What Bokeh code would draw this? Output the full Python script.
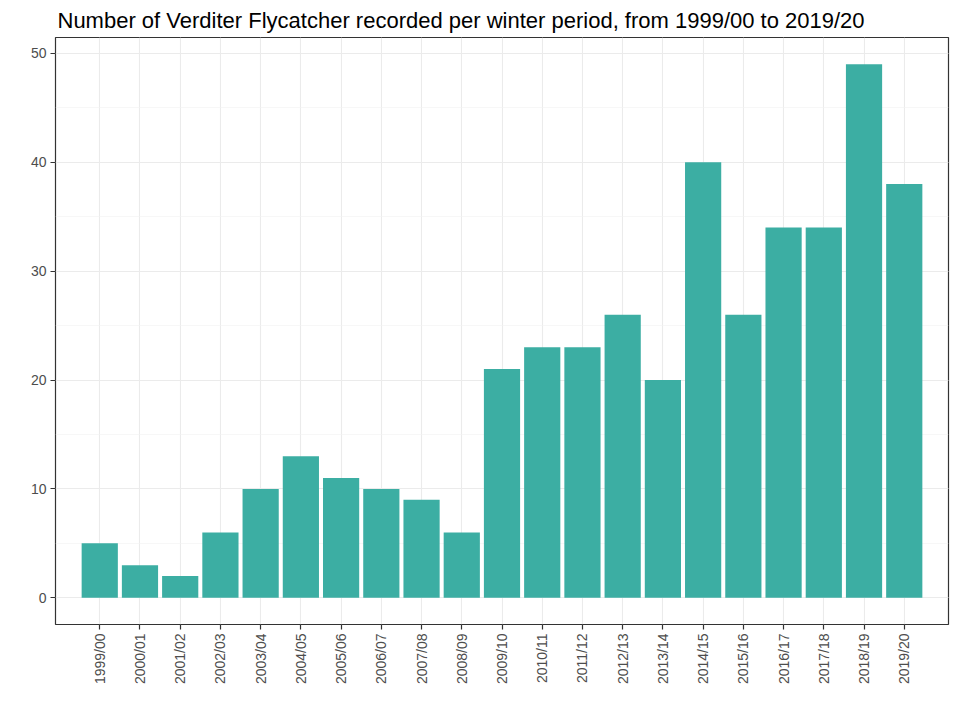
import math
from bokeh.plotting import figure
from bokeh.models import Range1d, FactorRange, SingleIntervalTicker
from bokeh.embed import file_html
from bokeh.resources import INLINE

seasons = ["1999/00", "2000/01", "2001/02", "2002/03", "2003/04", "2004/05", "2005/06",
           "2006/07", "2007/08", "2008/09", "2009/10", "2010/11", "2011/12", "2012/13",
           "2013/14", "2014/15", "2015/16", "2016/17", "2017/18", "2018/19", "2019/20"]
counts = [5, 3, 2, 6, 10, 13, 11, 10, 9, 6, 21, 23, 23, 26, 20, 40, 26, 34, 34, 49, 38]

title_text = "Number of Verditer Flycatcher recorded per winter period, from 1999/00 to 2019/20"

p = figure(x_range=FactorRange(factors=seasons, range_padding=0.6, range_padding_units="absolute"),
           y_range=Range1d(-2.45, 51.45),
           frame_width=893, frame_height=587,
           min_border_left=55, min_border_right=2, min_border_top=30, min_border_bottom=80,
           output_backend="svg", toolbar_location=None, title=title_text)

p.vbar(x=seasons, top=counts, width=0.9, fill_color="#3CAEA3", line_color=None)

p.title.text_font = "Liberation Sans"
p.title.text_font_size = "22px"
p.title.text_font_style = "normal"
p.title.text_color = "#000000"
p.title.align = "left"
p.title.offset = 2
p.title.standoff = 10

p.background_fill_color = "white"
p.border_fill_color = "white"
p.outline_line_color = "#333333"
p.outline_line_width = 1.2

p.yaxis.ticker = SingleIntervalTicker(interval=10, num_minor_ticks=2)
p.ygrid.ticker = SingleIntervalTicker(interval=10, num_minor_ticks=2)
for ax in (p.xaxis, p.yaxis):
    ax.axis_line_color = None
    ax.major_tick_line_color = "#333333"
    ax.major_tick_line_width = 1.2
    ax.major_tick_out = 5
    ax.major_tick_in = 0
    ax.minor_tick_line_color = None
    ax.major_label_text_font = "Liberation Sans"
    ax.major_label_text_font_size = "14px"
    ax.major_label_text_color = "#4D4D4D"
    ax.major_label_standoff = 4
p.xaxis.major_label_orientation = math.pi / 2

p.xgrid.grid_line_color = "#EBEBEB"
p.ygrid.grid_line_color = "#EBEBEB"
p.xgrid.grid_line_width = 1.1
p.ygrid.grid_line_width = 1.1
p.ygrid.minor_grid_line_color = "#F2F2F2"
p.ygrid.minor_grid_line_width = 0.6

open("out.html", "w").write(file_html(p, INLINE))
